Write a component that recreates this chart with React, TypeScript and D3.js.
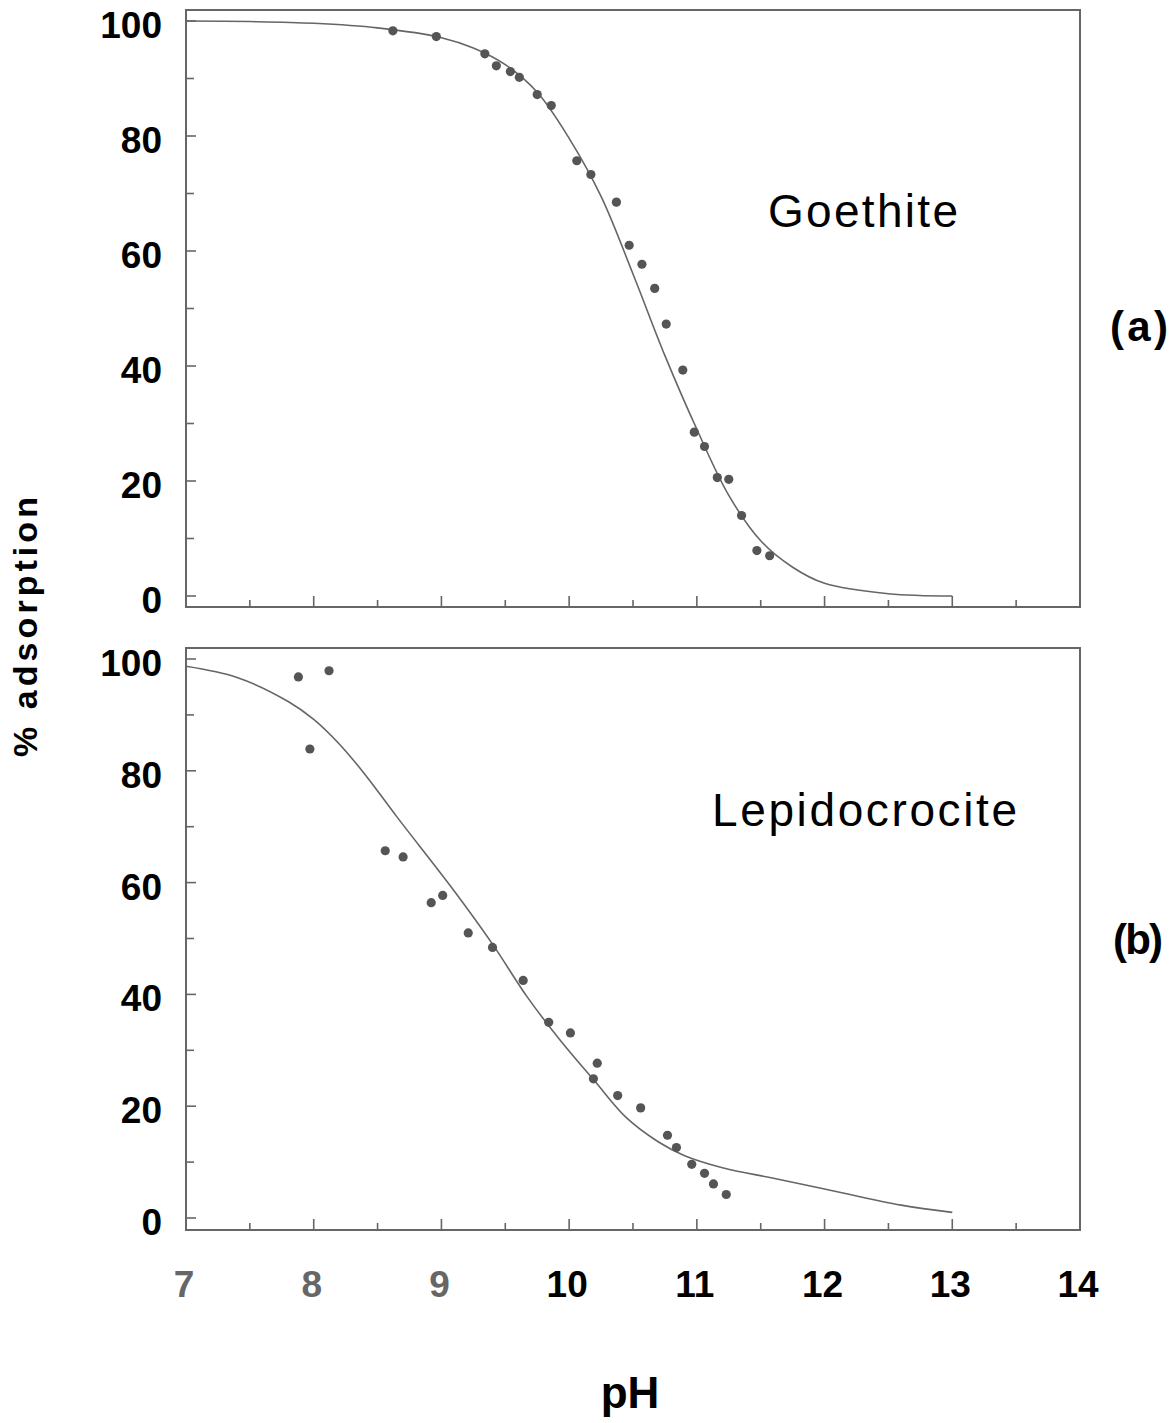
import React from "react";
import * as d3 from "d3";

// ---- Data ----
const goethitePH = [8.62, 8.96, 9.34, 9.43, 9.54, 9.61, 9.75, 9.86, 10.06, 10.17, 10.37, 10.47, 10.57, 10.67, 10.76, 10.89, 10.98, 11.06, 11.16, 11.25, 11.35, 11.47, 11.57];
const goethiteAds = [98.3, 97.3, 94.3, 92.2, 91.2, 90.2, 87.2, 85.3, 75.7, 73.3, 68.5, 61.0, 57.7, 53.5, 47.3, 39.3, 28.5, 26.0, 20.6, 20.3, 14.0, 7.9, 7.0];

const goethiteFitPH = [7.0, 7.5, 8.0, 8.5, 9.0, 9.25, 9.5, 9.75, 10.0, 10.25, 10.5, 10.75, 11.0, 11.25, 11.5, 11.75, 12.0, 12.5, 13.0];
const goethiteFitAds = [100, 99.9, 99.6, 98.8, 97.1, 95.3, 92.4, 87.6, 79.6, 69.5, 56.0, 41.8, 29.0, 17.5, 9.6, 5.0, 2.2, 0.4, 0.0];

const lepidoPH = [7.88, 8.12, 7.97, 8.56, 8.70, 8.92, 9.01, 9.21, 9.40, 9.64, 9.84, 10.01, 10.22, 10.19, 10.38, 10.56, 10.77, 10.84, 10.96, 11.06, 11.13, 11.23];
const lepidoAds = [96.8, 97.9, 83.9, 65.7, 64.6, 56.4, 57.7, 51.0, 48.4, 42.5, 35.0, 33.1, 27.7, 24.9, 21.9, 19.7, 14.8, 12.6, 9.6, 8.0, 6.1, 4.2];

const lepidoFitPH = [7.0, 7.4, 7.8, 8.0, 8.2, 8.4, 8.65, 9.1, 9.4, 9.67, 9.93, 10.2, 10.45, 10.7, 10.9, 11.2, 11.6, 12.0, 12.6, 13.0];
const lepidoFitAds = [98.7, 96.7, 92.4, 89.2, 84.8, 79.4, 71.8, 58.5, 49.0, 39.6, 31.8, 24.5, 17.9, 13.6, 11.2, 9.0, 7.1, 5.2, 2.3, 1.0];

const xTickLabels = ["7", "8", "9", "10", "11", "12", "13", "14"];
const yTickLabels = ["0", "20", "40", "60", "80", "100"];

const panelNames = ["Goethite", "Lepidocrocite"];
const panelTags = ["(a)", "(b)"];

const W = 1173;
const H = 1423;
const LEFT = 186;
const RIGHT = 1080;

const FONT = "'Liberation Sans', Arial, Helvetica, sans-serif";
const FRAME = "#666";
const INK = "#555";

type PanelProps = {
  top: number;
  bottom: number;
  y0: number;
  y100: number;
  ptsX: number[];
  ptsY: number[];
  fitX: number[];
  fitY: number[];
  name: string;
  nameX: number;
  nameY: number;
  nameLen: number;
  tag: string;
  tagX: number;
  tagY: number;
  tagLen: number;
};

function Panel(p: PanelProps) {
  const x = d3.scaleLinear().domain([7, 14]).range([LEFT, RIGHT]);
  const y = d3.scaleLinear().domain([0, 100]).range([p.y0, p.y100]);
  const line = d3
    .line<number>()
    .x((_, i) => x(p.fitX[i]))
    .y((v) => y(v))
    .curve(d3.curveCatmullRom.alpha(0.5));
  const xMinor = d3.range(7.5, 14, 0.5);
  const yTicks = d3.range(0, 101, 10);
  return (
    <g>
      <rect x={LEFT} y={p.top} width={RIGHT - LEFT} height={p.bottom - p.top} fill="none" stroke={FRAME} strokeWidth={2} />
      {xMinor.map((t) => {
        const major = Math.abs(t - Math.round(t)) < 1e-6;
        return (
          <line key={"xt" + t} x1={x(t)} x2={x(t)} y1={p.bottom} y2={p.bottom - (major ? 11 : 7)} stroke={FRAME} strokeWidth={1.6} />
        );
      })}
      {yTicks.map((t) => (
        <line key={"yt" + t} x1={LEFT} x2={LEFT + (t % 20 === 0 ? 10 : 8)} y1={y(t)} y2={y(t)} stroke={FRAME} strokeWidth={1.6} />
      ))}
      {yTickLabels.map((l) => (
        <text key={"yl" + l} x={162} y={y(+l) + 17} textAnchor="end" fontFamily={FONT} fontWeight="bold" fontSize={37} fill="#000">
          {l}
        </text>
      ))}
      <path d={line(p.fitY) || ""} fill="none" stroke="#666" strokeWidth={1.6} />
      {p.ptsX.map((v, i) => (
        <circle key={"pt" + i} cx={x(v)} cy={y(p.ptsY[i])} r={4.6} fill={INK} />
      ))}
      <text x={p.nameX} y={p.nameY} fontFamily={FONT} fontSize={46} fill="#000" textLength={p.nameLen} lengthAdjust="spacing">
        {p.name}
      </text>
      <text x={p.tagX} y={p.tagY} fontFamily={FONT} fontWeight="bold" fontSize={42} fill="#000" textLength={p.tagLen} lengthAdjust="spacing">
        {p.tag}
      </text>
    </g>
  );
}

export default function App() {
  const x = d3.scaleLinear().domain([7, 14]).range([LEFT, RIGHT]);
  return (
    <svg width={W} height={H} viewBox={`0 0 ${W} ${H}`} style={{ position: "absolute", left: 0, top: 0, background: "#fff" }}>
      <rect x={0} y={0} width={W} height={H} fill="#fff" />
      <Panel
        top={10}
        bottom={607}
        y0={596}
        y100={21}
        ptsX={goethitePH}
        ptsY={goethiteAds}
        fitX={goethiteFitPH}
        fitY={goethiteFitAds}
        name={panelNames[0]}
        nameX={768}
        nameY={227}
        nameLen={190}
        tag={panelTags[0]}
        tagX={1110}
        tagY={341}
        tagLen={58}
      />
      <Panel
        top={648}
        bottom={1230}
        y0={1218}
        y100={659}
        ptsX={lepidoPH}
        ptsY={lepidoAds}
        fitX={lepidoFitPH}
        fitY={lepidoFitAds}
        name={panelNames[1]}
        nameX={712}
        nameY={826}
        nameLen={305}
        tag={panelTags[1]}
        tagX={1113}
        tagY={954}
        tagLen={50}
      />
      {xTickLabels.map((l, i) => (
        <text
          key={"xl" + l}
          x={x(+l) - 2}
          y={1297}
          textAnchor="middle"
          fontFamily={FONT}
          fontWeight="bold"
          fontSize={37}
          fill={i < 3 ? "#666" : "#000"}
        >
          {l}
        </text>
      ))}
      <text x={630} y={1408} textAnchor="middle" fontFamily={FONT} fontWeight="bold" fontSize={44} fill="#000">
        pH
      </text>
      <text
        transform="translate(37,627) rotate(-90)"
        textAnchor="middle"
        fontFamily={FONT}
        fontWeight="bold"
        fontSize={34}
        fill="#000"
        textLength={260}
        lengthAdjust="spacing"
      >
        % adsorption
      </text>
    </svg>
  );
}
